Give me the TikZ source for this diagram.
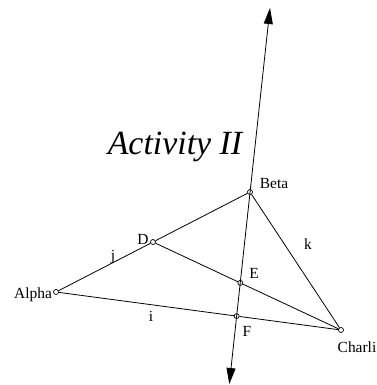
\documentclass[tikz,border=0pt]{standalone}
\usepackage{fontspec}
\setmainfont{Liberation Serif}
\usetikzlibrary{positioning,arrows.meta,calc}

\begin{document}
\begin{tikzpicture}[
  x=1bp, y=-1bp,
  line/.style={draw=black, line width=0.8bp},
  axisline/.style={line, {Triangle[length=16bp,width=9bp]}-{Triangle[length=16bp,width=9bp]}},
  pt/.style={circle, draw=black, fill=white, line width=0.7bp, inner sep=0pt, minimum size=5bp},
  lbl/.style={font=\fontsize{15.5}{18}\selectfont, inner sep=0pt},
  titlelbl/.style={font=\fontsize{34}{40}\selectfont\itshape, inner sep=0pt}
]
\useasboundingbox (0,0) rectangle (377,385);

% ===== Triangle vertices =====
\node[pt] (alpha)  at (56,292)  {};
\node[pt] (beta)   at (250,192) {};
\node[pt] (charli) at (341,330) {};
\node[pt] (d) at ($(alpha.center)!0.5!(beta.center)$) {};

% ===== Ends of the line through Beta =====
\coordinate (top) at (270,8);
\coordinate (bot) at (229.3,384);

% ===== Intersections =====
\node[pt] (e) at (intersection of d.center--charli.center and bot--top) {};
\node[pt] (f) at (intersection of alpha.center--charli.center and bot--top) {};

% ===== Segments =====
\draw[line] (alpha) -- (d);
\draw[line] (d) -- (beta);
\draw[line] (beta) -- (charli);
\draw[line] (alpha) -- (f);
\draw[line] (f) -- (charli);
\draw[line] (d) -- (e);
\draw[line] (e) -- (charli);
\draw[axisline] (bot) -- (top);

% ===== Labels =====
\node[lbl] (lalpha) at (33,295) {Alpha};
\node[lbl] (lbeta) at (274,184) {Beta};
\node[lbl] (lcharli) at (357,347) {Charli};
\node[lbl] (ld) at (143,239) {D};
\node[lbl] (le) at (254,273) {E};
\node[lbl] (lf) at (247,331) {F};
\node[lbl] (lj) at (113,257) {j};
\node[lbl] (li) at (151,316) {i};
\node[lbl] (lk) at (308,244) {k};

\node[titlelbl] (title) at (175,147) {Activity II};

\end{tikzpicture}
\end{document}
